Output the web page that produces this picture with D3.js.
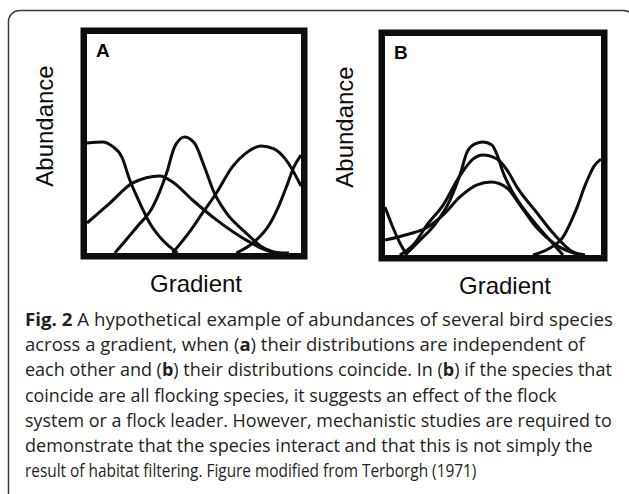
<!DOCTYPE html>
<html>
<head>
<meta charset="utf-8">
<script src="https://cdn.jsdelivr.net/npm/d3@7"></script>
<style>
    html, body { margin: 0; padding: 0; background: #fff; }
    svg { display: block; }
</style>
</head>
<body>
<svg id="fig" width="629" height="494"></svg>
<script>
// Panel A: independent distributions, [gradient, abundance] in 0..100
const speciesA1 = [[0, 50.2], [7.4, 50.7], [11.6, 48.9], [16.3, 43.8], [20, 33.3], [24.7, 22.8], [29.3, 13.7], [35.3, 5.9], [42.3, 0]];
const speciesA2 = [[0, 13.7], [10.7, 22.8], [21.4, 32], [34, 35.2], [40, 32.4], [49.3, 24.2], [60.5, 15.1], [74.4, 5.9], [86.5, 0.5], [94.4, 0]];
const speciesA3 = [[13, 0], [23.3, 11.9], [30.7, 21], [37.2, 36.5], [40.9, 48.4], [45.6, 53], [50.2, 50.2], [54.9, 39.3], [59.5, 27.4], [65.1, 18.3], [74.4, 9.1], [81.9, 2.7], [88.4, 0]];
const speciesA4 = [[40, 0], [47.9, 9.6], [54, 18.3], [60.5, 27.4], [67.9, 39.3], [74.4, 45.7], [81.4, 48.9], [87.4, 47.5], [93, 42.5], [100, 30.6]];
const speciesA5 = [[69.8, 0], [79.1, 5.9], [85.1, 12.8], [89.8, 21.9], [93.5, 31], [96.7, 39.3], [100, 44.7]];

// Panel B: coinciding distributions
const speciesB1 = [[9.3, 0], [16.2, 6.8], [23.6, 14.6], [30.1, 25.1], [34.7, 36.5], [38, 47], [41.7, 50.7], [45.4, 51.6], [49.5, 50.2], [52.3, 44.7], [54.6, 37.9], [59.3, 28.3], [67.1, 17.4], [75, 8.2], [82.4, 0]];
const speciesB2 = [[6.9, 0], [13.9, 5.5], [19.4, 13.7], [26.9, 22.8], [34.3, 35.6], [40.7, 43.8], [45.4, 45.7], [51.9, 43.8], [56.5, 38.8], [61.1, 31], [70.4, 19.2], [77.8, 10], [87, 1.4], [92.6, 0]];
const speciesB3 = [[0, 6.8], [11.1, 9.6], [19, 12.3], [26.9, 18.3], [34.7, 26.5], [42.6, 32], [49.1, 33.3], [56.5, 30.6], [62.5, 22.8], [70.4, 12.3], [79.2, 4.6], [90.3, 0]];
const speciesB4 = [[0, 21.9], [3.2, 13.7], [6.9, 5.5], [10.2, 0]];
const speciesB5 = [[68.5, 0], [76.4, 3.2], [82.4, 8.2], [88.4, 20.5], [93.1, 32.9], [96.8, 40.6], [100, 43.8]];

const panelLabels = ['A', 'B'];
const xLabel = 'Gradient';
const yLabel = 'Abundance';

const captionLines = [
    '**Fig. 2** A hypothetical example of abundances of several bird species',
    'across a gradient, when (**a**) their distributions are independent of',
    'each other and (**b**) their distributions coincide. In (**b**) if the species that',
    'coincide are all flocking species, it suggests an effect of the flock',
    'system or a flock leader. However, mechanistic studies are required to',
    'demonstrate that the species interact and that this is not simply the',
    'result of habitat filtering. Figure modified from Terborgh (1971)'
];
const captionRight = [613, 585, 612, 557, 612, 593, 477];

const INK = '#0d0d0d';
const BOX_WIDTH = 6.5;

let svg = d3.select('#fig');

// Outer frame of the figure
svg.append('rect')
    .attr('x', 8.5).attr('y', 10.5)
    .attr('width', 626).attr('height', 600)
    .attr('rx', 11)
    .attr('fill', 'none')
    .attr('stroke', '#3a3a3a')
    .attr('stroke-width', 1.5);

const panels = [
    { label: panelLabels[0], series: [speciesA1, speciesA2, speciesA3, speciesA4, speciesA5],
      xRange: [87, 301], yRange: [253, 34], yTitleX: 53, xTitleX: 196, xTitleY: 292 },
    { label: panelLabels[1], series: [speciesB1, speciesB2, speciesB3, speciesB4, speciesB5],
      xRange: [385, 601], yRange: [255, 36], yTitleX: 353, xTitleX: 505, xTitleY: 294 }
];

panels.forEach((p, i) => {
    let x = d3.scaleLinear().domain([0, 100]).range(p.xRange),
        y = d3.scaleLinear().domain([0, 100]).range(p.yRange),
        g = svg.append('g');

    let clipId = 'clip' + i;
    svg.append('clipPath').attr('id', clipId)
        .append('rect')
        .attr('x', p.xRange[0]).attr('y', p.yRange[1])
        .attr('width', p.xRange[1] - p.xRange[0])
        .attr('height', p.yRange[0] - p.yRange[1]);

    let line = d3.line()
        .curve(d3.curveMonotoneX)
        .x((d) => x(d[0]))
        .y((d) => y(d[1]));

    g.append('g')
        .attr('clip-path', 'url(#' + clipId + ')')
        .selectAll('path')
        .data(p.series)
        .enter().append('path')
        .attr('d', line)
        .attr('fill', 'none')
        .attr('stroke', INK)
        .attr('stroke-width', 3)
        .attr('stroke-linejoin', 'round');

    // Heavy box around the plot
    g.append('rect')
        .attr('x', p.xRange[0] - BOX_WIDTH / 2)
        .attr('y', p.yRange[1] - BOX_WIDTH / 2)
        .attr('width', p.xRange[1] - p.xRange[0] + BOX_WIDTH)
        .attr('height', p.yRange[0] - p.yRange[1] + BOX_WIDTH)
        .attr('fill', 'none')
        .attr('stroke', INK)
        .attr('stroke-width', BOX_WIDTH);

    g.append('text')
        .attr('x', p.xRange[0] + 9)
        .attr('y', p.yRange[1] + 23)
        .attr('font-family', '"Liberation Sans", Arial, sans-serif')
        .attr('font-weight', 'bold')
        .attr('font-size', 19)
        .attr('fill', INK)
        .text(p.label);

    g.append('text')
        .attr('transform', 'translate(' + p.yTitleX + ',' + (i === 0 ? 126 : 127) + ') rotate(-90)')
        .attr('text-anchor', 'middle')
        .attr('font-family', '"Liberation Sans", Arial, sans-serif')
        .attr('font-size', 24)
        .attr('fill', INK)
        .text(yLabel);

    g.append('text')
        .attr('x', p.xTitleX)
        .attr('y', p.xTitleY)
        .attr('text-anchor', 'middle')
        .attr('font-family', '"Liberation Sans", Arial, sans-serif')
        .attr('font-size', 24)
        .attr('fill', INK)
        .text(xLabel);
});

// Caption, bold parts marked with **
captionLines.forEach((l, i) => {
    let t = svg.append('text')
        .attr('font-family', '"Open Sans", "Noto Sans", sans-serif')
        .attr('font-size', 17.5)
        .attr('fill', '#231f20');

    l.split('**').forEach((s, j) => {
        t.append('tspan')
            .attr('font-weight', j % 2 ? 'bold' : 'normal')
            .text(s);
    });

    let w = t.node().getComputedTextLength(),
        k = (captionRight[i] - 25) / w;
    t.attr('transform', 'translate(25,' + (326 + i * 25.2) + ') scale(' + k + ',1)');
});
</script>
</body>
</html>
